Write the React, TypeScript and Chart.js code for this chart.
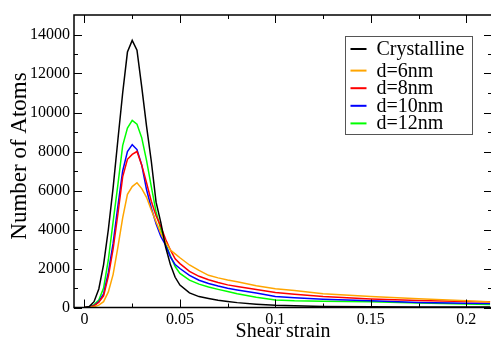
import React, { useEffect, useRef } from "react";
import { Chart, registerables } from "chart.js";

Chart.register(...registerables);

// ---- data ----
const strain = [0, 0.0025, 0.005, 0.0075, 0.01, 0.0125, 0.015, 0.0175, 0.02, 0.0225, 0.025, 0.0275, 0.03, 0.0325, 0.035, 0.0375, 0.04, 0.0425, 0.045, 0.0475, 0.05, 0.055, 0.06, 0.065, 0.07, 0.075, 0.08, 0.09, 0.1, 0.11, 0.125, 0.15, 0.175, 0.2, 0.2125];

const crystalline = [0, 50, 300, 950, 2200, 4000, 6150, 8600, 11000, 13100, 13700, 13200, 11300, 9300, 7500, 5400, 4350, 3100, 2200, 1550, 1150, 750, 560, 460, 370, 305, 250, 170, 110, 85, 55, 35, 30, 25, 20];
const d6nm = [0, 10, 40, 120, 300, 800, 1700, 3100, 4600, 5800, 6200, 6400, 6100, 5650, 5000, 4400, 3800, 3350, 2950, 2750, 2550, 2180, 1900, 1650, 1520, 1410, 1320, 1120, 960, 870, 700, 560, 450, 350, 280];
const d8nm = [0, 20, 90, 270, 600, 1600, 3000, 4800, 6700, 7600, 7850, 8000, 7300, 6400, 5450, 4700, 4150, 3500, 2950, 2500, 2250, 1850, 1600, 1420, 1280, 1160, 1080, 920, 770, 680, 560, 440, 360, 310, 300];
const d10nm = [0, 20, 100, 300, 700, 1800, 3300, 5200, 7000, 8000, 8350, 8100, 7300, 6050, 5100, 4300, 3650, 3200, 2600, 2200, 2000, 1650, 1400, 1230, 1100, 990, 900, 740, 570, 500, 420, 340, 260, 220, 200];
const d12nm = [0, 30, 150, 380, 1000, 2450, 4400, 6300, 8300, 9200, 9600, 9400, 8700, 7550, 6200, 4900, 4000, 3250, 2650, 2100, 1750, 1400, 1200, 1050, 930, 820, 700, 520, 380, 340, 320, 290, 230, 180, 150];

const seriesLabels = ["Crystalline", "d=6nm", "d=8nm", "d=10nm", "d=12nm"];
const seriesValues = [crystalline, d6nm, d8nm, d10nm, d12nm];
const seriesColors = ["#000000", "#FFA500", "#FF0000", "#0000FF", "#00FF00"];

const xTickValues = [0, 0.05, 0.1, 0.15, 0.2];
const xTickLabels = ["0", "0.05", "0.1", "0.15", "0.2"];
const xMinorTicks = [0.025, 0.075, 0.125, 0.175];
const yTickValues = [0, 2000, 4000, 6000, 8000, 10000, 12000, 14000];
const yTickLabels = ["0", "2000", "4000", "6000", "8000", "10000", "12000", "14000"];
const yMinorTicks = [1000, 3000, 5000, 7000, 9000, 11000, 13000];
const yTitle = "Number of Atoms";
const xTitle = "Shear strain";

const FONT = "'Liberation Serif', 'Times New Roman', serif";

const framePlugin = {
  id: "frameTicks",
  afterDatasetsDraw(chart: any) {
    const { ctx, chartArea } = chart;
    const { left, right, top, bottom } = chartArea;
    const xs = chart.scales.x;
    const ys = chart.scales.y;
    ctx.save();
    ctx.strokeStyle = "#000";
    ctx.lineWidth = 1;
    const drawX = (v: number, len: number) => {
      const p = Math.round(xs.getPixelForValue(v)) + 0.5;
      ctx.beginPath();
      ctx.moveTo(p, bottom);
      ctx.lineTo(p, bottom - len);
      ctx.moveTo(p, top);
      ctx.lineTo(p, top + len);
      ctx.stroke();
    };
    const drawY = (v: number, len: number) => {
      const p = Math.round(ys.getPixelForValue(v)) + 0.5;
      ctx.beginPath();
      ctx.moveTo(left, p);
      ctx.lineTo(left + len, p);
      ctx.moveTo(right, p);
      ctx.lineTo(right - len, p);
      ctx.stroke();
    };
    xTickValues.forEach((v) => drawX(v, 8));
    xMinorTicks.forEach((v) => drawX(v, 4));
    yTickValues.forEach((v) => drawY(v, 8));
    yMinorTicks.forEach((v) => drawY(v, 4));
    ctx.lineWidth = 1.5;
    ctx.strokeRect(left, top, right - left, bottom - top);
    // y-axis title
    ctx.fillStyle = "#000";
    ctx.font = `23px ${FONT}`;
    ctx.textAlign = "center";
    ctx.textBaseline = "middle";
    ctx.translate(20, 156);
    ctx.rotate(-Math.PI / 2);
    ctx.fillText(yTitle, 0, 0);
    ctx.restore();
  },
};

const legendPlugin = {
  id: "boxLegend",
  afterDraw(chart: any) {
    const { ctx } = chart;
    const bx = 345.5, by = 36.5, bw = 127, bh = 98;
    ctx.save();
    ctx.fillStyle = "#fff";
    ctx.fillRect(bx, by, bw, bh);
    ctx.strokeStyle = "#555";
    ctx.lineWidth = 1;
    ctx.strokeRect(bx, by, bw, bh);
    ctx.font = `20px ${FONT}`;
    ctx.textBaseline = "alphabetic";
    ctx.textAlign = "left";
    chart.data.datasets.forEach((ds: any, i: number) => {
      const baseline = i === 0 ? by + 18.5 : by + 22.5 + i * 17.6;
      const ly = baseline - 6;
      ctx.strokeStyle = ds.borderColor;
      ctx.lineWidth = 2;
      ctx.beginPath();
      ctx.moveTo(bx + 5, ly);
      ctx.lineTo(bx + 21, ly);
      ctx.stroke();
      ctx.fillStyle = "#000";
      ctx.fillText(ds.label, bx + 31, baseline);
    });
    ctx.restore();
  },
};

export default function App() {
  const ref = useRef<HTMLCanvasElement | null>(null);
  useEffect(() => {
    if (!ref.current) return;
    const datasets = seriesLabels.map((label, i) => ({
      label,
      data: strain.map((x, j) => ({ x, y: seriesValues[i][j] })),
      borderColor: seriesColors[i],
      backgroundColor: seriesColors[i],
      borderWidth: 1.5,
      pointRadius: 0,
      tension: 0,
      fill: false,
    }));
    const chart = new Chart(ref.current, {
      type: "line",
      data: { datasets },
      options: {
        animation: false,
        responsive: false,
        devicePixelRatio: 1,
        layout: { padding: { top: 15, right: 1, left: 0, bottom: 0 } },
        plugins: { legend: { display: false }, tooltip: { enabled: false } },
        scales: {
          x: {
            type: "linear",
            min: -0.0055,
            max: 0.2135,
            grid: { display: false, drawTicks: false },
            border: { display: false },
            afterFit: (s: any) => {
              s.height = 36.5;
            },
            afterBuildTicks: (s: any) => {
              s.ticks = xTickValues.map((v) => ({ value: v }));
            },
            ticks: {
              autoSkip: false,
              maxRotation: 0,
              padding: 3,
              color: "#000",
              font: { family: FONT, size: 16 },
              callback: (v: any) => xTickLabels[xTickValues.indexOf(Number(v))] ?? "",
            },
            title: {
              display: true,
              text: xTitle,
              color: "#000",
              font: { family: FONT, size: 20 },
              padding: { top: 0, bottom: 0 },
            },
          },
          y: {
            type: "linear",
            min: 0,
            max: 15000,
            grid: { display: false, drawTicks: false },
            border: { display: false },
            afterFit: (s: any) => {
              s.width = 74;
            },
            afterBuildTicks: (s: any) => {
              s.ticks = yTickValues.map((v) => ({ value: v }));
            },
            ticks: {
              autoSkip: false,
              padding: 4,
              color: "#000",
              font: { family: FONT, size: 16 },
              callback: (v: any) => yTickLabels[yTickValues.indexOf(Number(v))] ?? "",
            },
            title: { display: false },
          },
        },
      },
      plugins: [framePlugin, legendPlugin],
    });
    return () => chart.destroy();
  }, []);
  return (
    <div style={{ position: "fixed", left: 0, top: 0, width: 491, height: 344, overflow: "hidden", background: "#fff" }}>
      <canvas ref={ref} width={493} height={344} style={{ display: "block" }} />
    </div>
  );
}
